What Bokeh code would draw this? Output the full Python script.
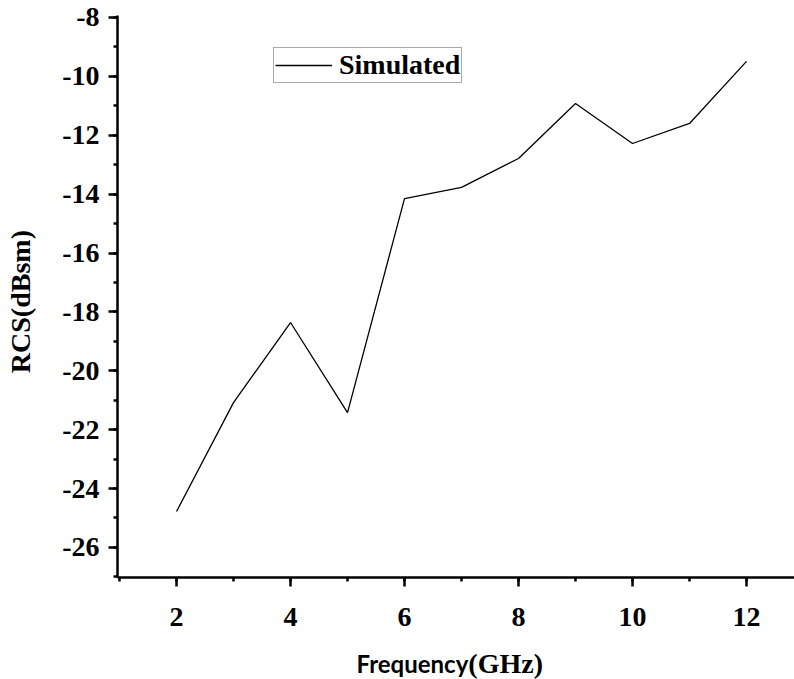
import math
from bokeh.plotting import figure
from bokeh.models import Range1d, SingleIntervalTicker, Label
from bokeh.embed import file_html
from bokeh.resources import INLINE

freq_ghz = [2, 3, 4, 5, 6, 7, 8, 9, 10, 11, 12]
rcs_simulated = [-24.78, -21.08, -18.36, -21.42, -14.15, -13.77, -12.79, -10.92, -12.28, -11.60, -9.49]
series_name = "Simulated"
x_title_main = "Frequency"
x_title_unit = "(GHz)"
y_title = "RCS(dBsm)"
x_tick_values = [2, 4, 6, 8, 10, 12]
y_tick_values = [-8, -10, -12, -14, -16, -18, -20, -22, -24, -26]

# axis extents (data units)
X_LO, X_HI = 0.965, 12.84
Y_LO, Y_HI = -27.02, -7.93

SERIF = "Liberation Serif"

# frame spans the whole canvas; axes are placed at fixed data locations with bounds
p = figure(width=794, height=679, output_backend="svg", toolbar_location=None,
           x_range=Range1d(-1.088, 12.842), y_range=Range1d(-30.486, -7.4226),
           min_border=0, min_border_left=0, min_border_right=0,
           min_border_top=0, min_border_bottom=0)
p.outline_line_color = None
p.xgrid.visible = False
p.ygrid.visible = False
p.background_fill_color = "white"
p.border_fill_color = "white"

p.line(freq_ghz, rcs_simulated, line_color="black", line_width=1.3, legend_label=series_name)

xa = p.xaxis[0]
ya = p.yaxis[0]
xa.fixed_location = Y_LO
xa.bounds = (X_LO, X_HI)
ya.fixed_location = X_LO
ya.bounds = (Y_LO, Y_HI)

for ax, ticks in ((xa, x_tick_values), (ya, y_tick_values)):
    ax.ticker = SingleIntervalTicker(interval=2, num_minor_ticks=2)
    ax.major_label_overrides = {v: str(v) for v in ticks}
    ax.axis_line_width = 2.5
    ax.axis_line_color = "black"
    ax.major_tick_line_width = 2.5
    ax.minor_tick_line_width = 2.5
    ax.major_tick_line_color = "black"
    ax.minor_tick_line_color = "black"
    ax.major_tick_out = 9
    ax.major_tick_in = 0
    ax.minor_tick_out = 4
    ax.minor_tick_in = 0
    ax.major_label_text_font = SERIF
    ax.major_label_text_font_style = "bold"
    ax.major_label_text_font_size = "28px"
    ax.major_label_text_color = "black"

xa.major_label_standoff = 22
ya.major_label_standoff = 9

# axis titles
p.add_layout(Label(x=7.12, y=-29.94, text=x_title_main, text_align="right", text_baseline="middle",
                   text_font="Lato", text_font_style="bold", text_font_size="24px",
                   text_color="black"))
p.add_layout(Label(x=7.12, y=-29.94, text=x_title_unit, text_align="left", text_baseline="middle",
                   text_font=SERIF, text_font_style="bold", text_font_size="28px",
                   text_color="black"))
p.add_layout(Label(x=-0.737, y=-17.65, text=y_title, angle=math.pi / 2, text_align="center",
                   text_baseline="middle", text_font=SERIF, text_font_style="bold",
                   text_font_size="28px", text_color="black"))

lg = p.legend[0]
lg.location = (273, 596)
lg.label_text_font = SERIF
lg.label_text_font_style = "bold"
lg.label_text_font_size = "28px"
lg.label_text_color = "black"
lg.glyph_width = 57
lg.glyph_height = 20
lg.label_standoff = 7
lg.padding = 1
lg.margin = 0
lg.border_line_color = "#555555"
lg.border_line_width = 1.5
lg.background_fill_color = "white"
lg.background_fill_alpha = 1.0

open("out.html", "w").write(file_html(p, INLINE))
